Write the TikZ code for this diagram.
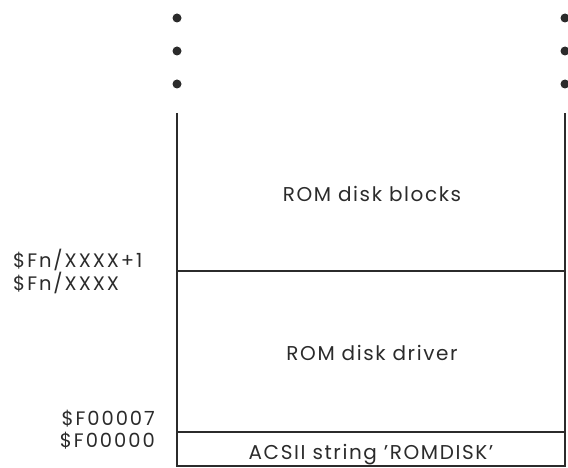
\documentclass[tikz,border=0pt]{standalone}
\usepackage{fontspec}
\setmainfont{Poppins}
\usetikzlibrary{positioning}
\definecolor{inkGray}{HTML}{2B2B2B}
\tikzset{
  wall/.style={draw=inkGray,line width=2pt},
  region/.style={font=\fontsize{20}{22}\selectfont\addfontfeature{LetterSpace=8},text=inkGray,inner sep=0pt,anchor=base},
  addr/.style={font=\fontsize{19.5}{22}\selectfont\addfontfeature{LetterSpace=10},text=inkGray,inner sep=0pt},
}
\begin{document}
\begin{tikzpicture}[x=1pt,y=-1pt]
  \useasboundingbox (0,0) rectangle (568,468);
  % memory map outline
  \coordinate (tl) at (177,113);
  \coordinate (tr) at (565,113);
  \coordinate (bl) at (177,466);
  \coordinate (br) at (565,466);
  \coordinate (ml) at (177,271);
  \coordinate (mr) at (565,271);
  \coordinate (sl) at (177,432);
  \coordinate (sr) at (565,432);
  \draw[wall] (tl) -- (bl) -- (br) -- (tr);
  \draw[wall] (ml) -- (mr);
  \draw[wall] (sl) -- (sr);
  % continuation dots
  \foreach \y in {18,51,84} {
    \fill[inkGray] (177,\y) circle (4.5pt);
    \fill[inkGray] (565,\y) circle (4.5pt);
  }
  % regions
  \node[region] (blocks) at (372,202) {ROM disk blocks};
  \node[region] (driver) at (372,360) {ROM disk driver};
  \node[region] (ident) at (371,459) {ACSII string 'ROMDISK'};
  % addresses
  \node[addr,anchor=base west] (a1) at (13,267) {\$Fn/XXXX+1};
  \node[addr,anchor=base west] (a2) at (13,290) {\$Fn/XXXX};
  \node[addr,anchor=base east] (a3) at (155,425) {\$F00007};
  \node[addr,anchor=base east] (a4) at (155,447) {\$F00000};
\end{tikzpicture}
\end{document}
